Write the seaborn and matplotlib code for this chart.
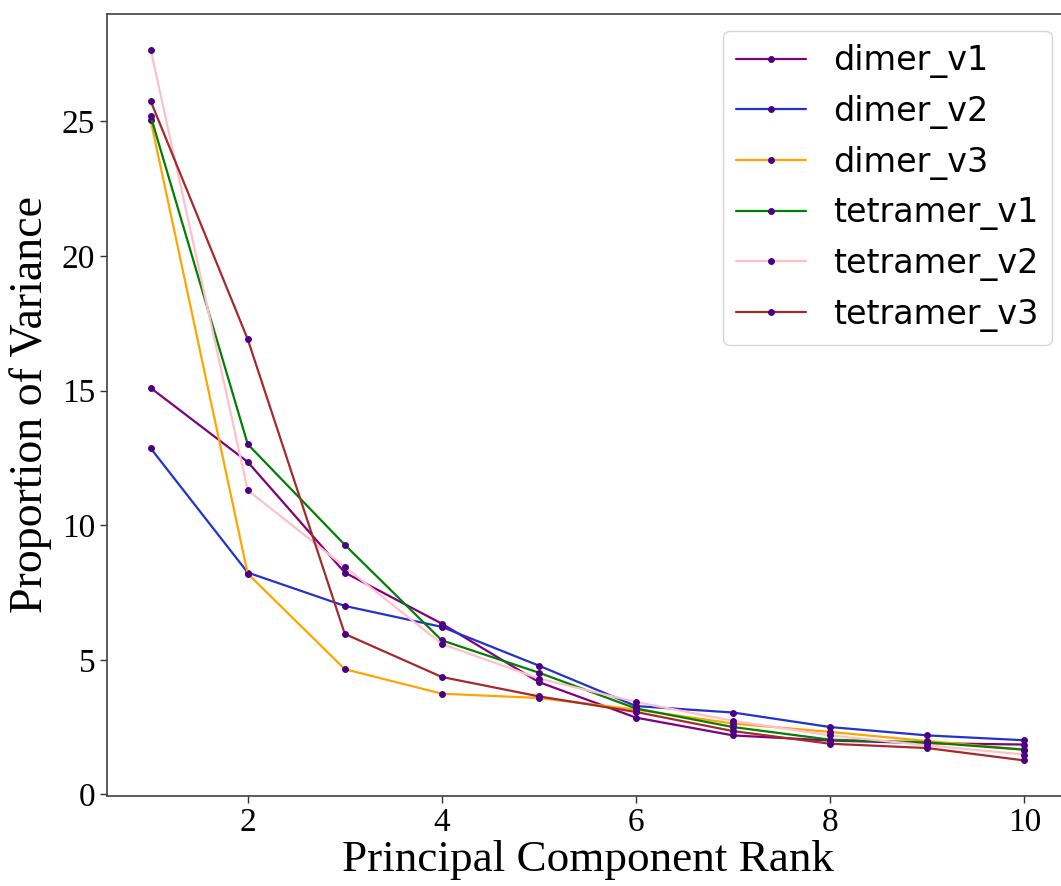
import matplotlib
matplotlib.use("Agg")
import matplotlib.pyplot as plt
import seaborn as sns
import pandas as pd

ranks = [1, 2, 3, 4, 5, 6, 7, 8, 9, 10]
dimer_v1 = [15.10, 12.35, 8.24, 6.34, 4.17, 2.85, 2.19, 2.00, 1.90, 1.85]
dimer_v2 = [12.86, 8.24, 7.00, 6.22, 4.78, 3.28, 3.04, 2.50, 2.19, 2.01]
dimer_v3 = [25.05, 8.20, 4.65, 3.74, 3.58, 3.15, 2.63, 2.32, 1.98, 1.66]
tetramer_v1 = [25.20, 13.01, 9.27, 5.72, 4.52, 3.19, 2.50, 2.03, 1.93, 1.66]
tetramer_v2 = [27.67, 11.30, 8.45, 5.59, 4.30, 3.43, 2.73, 2.19, 1.82, 1.48]
tetramer_v3 = [25.76, 16.91, 5.96, 4.36, 3.64, 3.06, 2.35, 1.88, 1.72, 1.26]

series_names = ["dimer_v1", "dimer_v2", "dimer_v3", "tetramer_v1", "tetramer_v2", "tetramer_v3"]
series_values = [dimer_v1, dimer_v2, dimer_v3, tetramer_v1, tetramer_v2, tetramer_v3]
colors = ["purple", "#2233cc", "orange", "green", "pink", "brown"]

sns.set_theme(style="ticks")
plt.rcParams["font.family"] = ["DejaVu Sans"]
plt.rcParams["text.color"] = "black"
plt.rcParams["axes.labelcolor"] = "black"
plt.rcParams["xtick.color"] = "black"
plt.rcParams["ytick.color"] = "black"

fig = plt.figure(figsize=(10.61, 8.86), dpi=100)
ax = fig.add_axes([0.1008, 0.1016, 0.9058, 0.8826])

for name, vals, col in zip(series_names, series_values, colors):
    df = pd.DataFrame({"rank": ranks, "value": vals})
    sns.lineplot(data=df, x="rank", y="value", ax=ax, color=col, label=name,
                 linewidth=1.6, marker="o", markersize=4.2,
                 markerfacecolor="#4B0082", markeredgecolor="#4B0082")

ax.set_xlabel("Principal Component Rank", fontsize=32.5, family="Liberation Serif", labelpad=1)
ax.set_ylabel("Proportion of Variance", fontsize=33, family="Liberation Serif", labelpad=7)
ax.set_xticks([2, 4, 6, 8, 10])
ax.set_yticks([0, 5, 10, 15, 20, 25])
for lab in ax.get_xticklabels() + ax.get_yticklabels():
    lab.set_family("Liberation Serif")
    lab.set_fontsize(24)
    lab.set_color("black")
ax.tick_params(axis="both", length=5, width=1, color="0.2")
for s in ax.spines.values():
    s.set_color("0.25")
    s.set_linewidth(1.2)

leg = ax.legend(loc="upper right", bbox_to_anchor=(0.9915, 0.965),
                bbox_transform=fig.transFigure, borderaxespad=0,
                fontsize=24, handlelength=2.1, labelspacing=0.5, frameon=True)
leg.get_frame().set_edgecolor("0.8")
for t in leg.get_texts():
    t.set_color("black")

fig.savefig("out.png", dpi=100)
